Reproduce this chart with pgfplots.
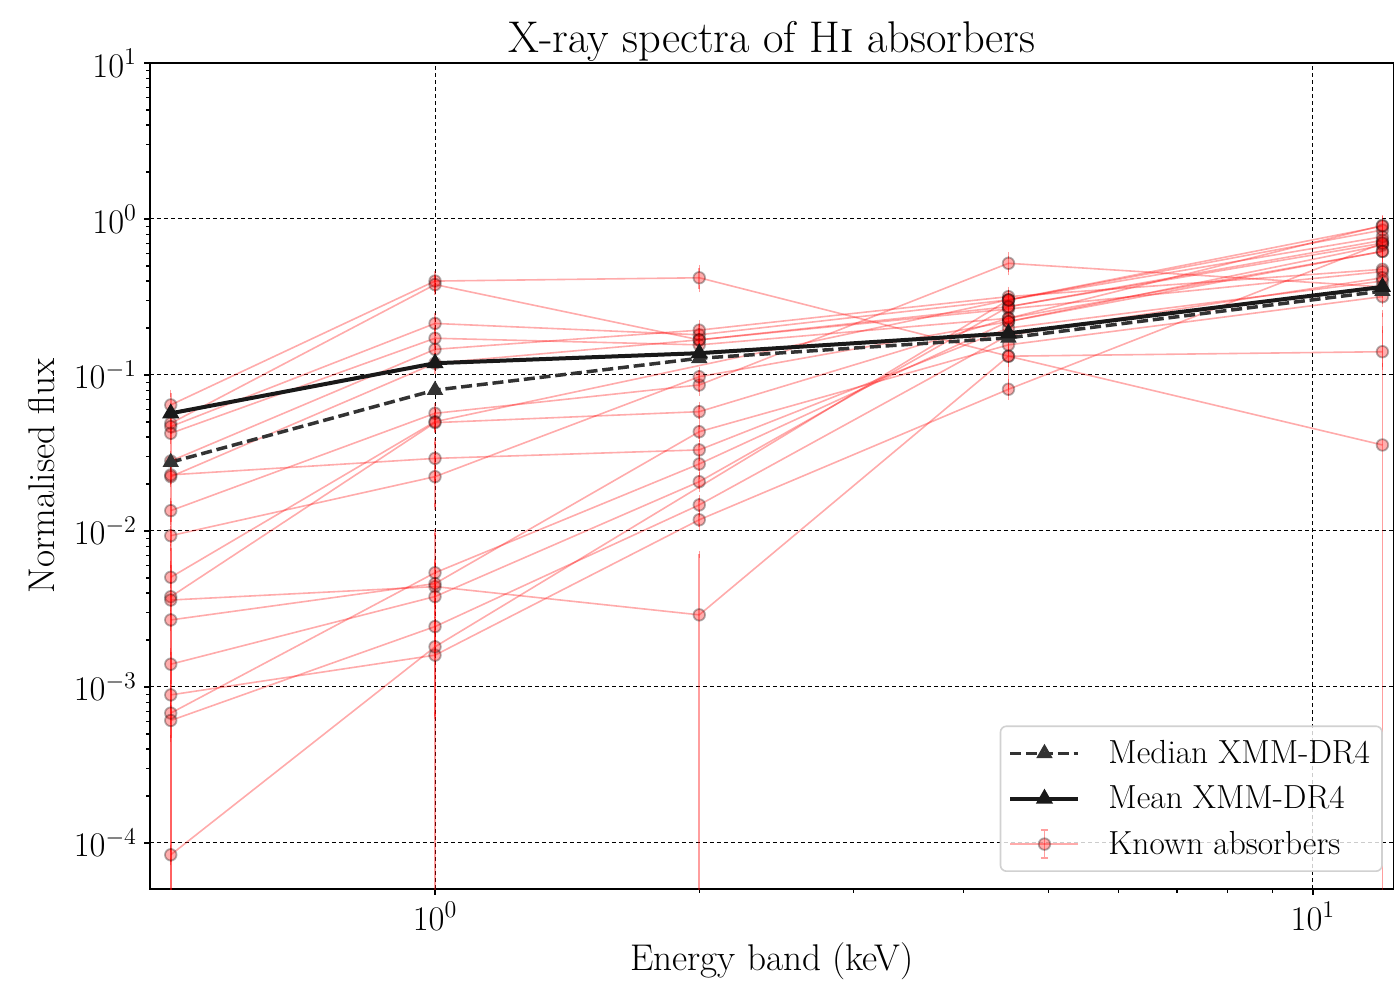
\documentclass[border=0pt]{standalone}
\usepackage{pgfplots}
\pgfplotsset{compat=1.18}
\usepackage{pgfplotstable}

% Normalised flux of each known absorber per energy band (keV)
% columns: band, flux, relative error up, relative error down
\pgfplotstableread{
E F ep em
0.5 0.0643 0.19 0.9999
1 0.40 0.1 0.1
2 0.42 0.15 0.15
4.5 0.132 0.1 0.1
12 0.141 0.38 0.2
}\tA
\pgfplotstableread{
E F ep em
0.5 0.049 0.1 0.1
1 0.38 0.1 0.1
2 0.168 0.1 0.1
4.5 0.274 0.1 0.1
12 0.70 0.1 0.1
}\tB
\pgfplotstableread{
E F ep em
0.5 0.0467 0.1 0.1
1 0.214 0.1 0.1
2 0.181 0.1 0.1
4.5 0.303 0.1 0.1
12 0.85 0.1 0.1
}\tC
\pgfplotstableread{
E F ep em
0.5 0.0423 0.1 0.1
1 0.172 0.1 0.1
2 0.156 0.1 0.1
4.5 0.231 0.1 0.1
12 0.62 0.1 0.1
}\tD
\pgfplotstableread{
E F ep em
0.5 0.0281 0.1 0.1
1 0.146 0.1 0.1
2 0.194 0.1 0.1
4.5 0.318 0.1 0.1
12 0.476 0.1 0.1
}\tE
\pgfplotstableread{
E F ep em
0.5 0.0223 0.1 0.1
1 0.119 0.1 0.1
2 0.168 0.1 0.1
4.5 0.265 0.1 0.1
12 0.46 0.1 0.1
}\tF
\pgfplotstableread{
E F ep em
0.5 0.0229 0.1 0.1
1 0.0292 0.28 0.28
2 0.0331 0.1 0.1
4.5 0.20 0.1 0.1
12 0.40 0.1 0.1
}\tG
\pgfplotstableread{
E F ep em
0.5 0.0135 0.15 0.15
1 0.0568 0.1 0.1
2 0.0863 0.1 0.1
4.5 0.52 0.12 0.12
12 0.367 0.1 0.1
}\tH
\pgfplotstableread{
E F ep em
0.5 0.00933 0.1 0.1
1 0.0223 0.36 0.36
2 0.0975 0.1 0.1
4.5 0.22 0.1 0.1
12 0.68 0.1 0.1
}\tI
\pgfplotstableread{
E F ep em
0.5 0.00505 0.55 0.1
1 0.0502 0.1 0.1
4.5 0.303 0.1 0.1
12 0.77 0.1 0.1
}\tJ
\pgfplotstableread{
E F ep em
0.5 0.00379 0.6 0.9999
1 0.0495 0.1 0.1
2 0.0582 0.1 0.1
4.5 0.231 0.1 0.1
12 0.91 0.1 0.1
}\tK
\pgfplotstableread{
E F ep em
0.5 0.00361 0.1 0.1
1 0.0044 0.1 0.1
2 0.0029 1.45 0.9999
4.5 0.132 0.1 0.38
12 0.0356 6.0 0.9999
}\tL
\pgfplotstableread{
E F ep em
0.5 0.00269 0.1 0.1
1 0.0046 0.37 0.37
2 0.0433 0.1 0.1
4.5 0.156 0.1 0.1
12 0.318 0.1 0.1
}\tM
\pgfplotstableread{
E F ep em
0.5 0.0014 0.2 0.25
1 0.0038 0.1 0.1
2 0.0207 0.1 0.1
4.5 0.274 0.1 0.1
12 0.73 0.1 0.1
}\tN
\pgfplotstableread{
E F ep em
0.5 0.00089 0.1 0.1
1 0.0016 0.6 0.59
2 0.0118 0.1 0.1
4.5 0.081 0.1 0.1
12 0.70 0.1 0.1
}\tO
\pgfplotstableread{
E F ep em
0.5 0.00068 0.1 0.1
1 0.0054 0.8 0.9999
2 0.0269 0.1 0.1
4.5 0.22 0.1 0.1
12 0.62 0.1 0.1
}\tP
\pgfplotstableread{
E F ep em
0.5 0.00061 0.25 0.23
1 0.00244 0.1 0.1
2 0.0147 0.1 0.1
4.5 0.18 0.1 0.1
12 0.42 0.1 0.1
}\tQ
\pgfplotstableread{
E F ep em
0.5 0.000084 0.1 0.1
1 0.00181 0.1 0.1
4.5 0.303 0.1 0.1
12 0.90 0.1 0.1
}\tR

% XMM-DR4 reference spectra
\pgfplotstableread{
E F
0.5 0.0276
1 0.080
2 0.128
4.5 0.173
12 0.345
}\tMedian
\pgfplotstableread{
E F
0.5 0.0568
1 0.119
2 0.138
4.5 0.185
12 0.367
}\tMean

\pgfplotsset{
  absorber/.style={
    forget plot, draw=red, draw opacity=0.33, line width=0.8pt,
    mark=*, mark size=2.9pt,
    mark options={solid, fill=red, fill opacity=0.32, draw=black, draw opacity=0.3, line width=0.9pt},
    error bars/.cd, y dir=both, y explicit relative,
    error bar style={draw=red, draw opacity=0.38, line width=0.8pt},
    error mark options={draw=red, draw opacity=0.38, line width=0.7pt, mark size=1.75pt},
  },
  medianstyle/.style={color=black!80, line width=1.75pt, dash pattern=on 5.5pt off 2.4pt,
    mark=triangle*, mark size=3pt, mark options={solid, fill=black!80}},
  meanstyle/.style={color=black!90, line width=2pt,
    mark=triangle*, mark size=3pt, mark options={solid, fill=black!90}},
}

\begin{document}
\begin{tikzpicture}
\useasboundingbox (-75pt,-48pt) rectangle (622pt,444.5pt);
\begin{axis}[
  at={(0,0)}, anchor=south west,
  scale only axis, width=622pt, height=413pt,
  xmode=log, ymode=log,
  xmin=0.4735, xmax=12.37, ymin=5.07e-5, ymax=10,
  xtick={1,10}, ytick={1e-4,1e-3,1e-2,1e-1,1,10},
  tick pos=left, tick align=outside,
  major tick length=3pt, minor tick length=2pt,
  every tick/.style={black, line width=0.6pt},
  grid=major,
  major grid style={black, line width=0.5pt, dash pattern=on 2pt off 1.5pt},
  axis line style={line width=0.8pt},
  tick label style={font=\fontsize{17.5}{20}\selectfont},
  xlabel={Energy band (keV)}, ylabel={Normalised flux},
  xlabel style={font=\fontsize{18.6}{22}\selectfont, at={(axis description cs:0.5,-0.099)}, anchor=base},
  ylabel style={font=\fontsize{18.6}{22}\selectfont, at={(axis description cs:-0.0764,0.5)}, anchor=base},
  title={X-ray spectra of H\textsc{i} absorbers},
  title style={font=\fontsize{22.2}{26}\selectfont, at={(axis description cs:0.5,1)}, anchor=base, yshift=-1pt},
  legend style={at={(rel axis cs:0.991,0.0206)}, anchor=south east,
    draw=black!18, line width=0.8pt, rounded corners=3pt, fill=white, fill opacity=0.8, text opacity=1,
    font=\fontsize{16.7}{20}\selectfont, row sep=5.7pt, column sep=12pt, inner xsep=4pt, inner ysep=5pt},
  legend cell align=left,
  legend image code/.code={\draw[mark repeat=2, mark phase=2] plot coordinates {(0pt,0pt) (17pt,0pt) (34pt,0pt)};},
]
\addplot[absorber] table[x=E, y=F, y error plus=ep, y error minus=em] {\tA};
\addplot[absorber] table[x=E, y=F, y error plus=ep, y error minus=em] {\tB};
\addplot[absorber] table[x=E, y=F, y error plus=ep, y error minus=em] {\tC};
\addplot[absorber] table[x=E, y=F, y error plus=ep, y error minus=em] {\tD};
\addplot[absorber] table[x=E, y=F, y error plus=ep, y error minus=em] {\tE};
\addplot[absorber] table[x=E, y=F, y error plus=ep, y error minus=em] {\tF};
\addplot[absorber] table[x=E, y=F, y error plus=ep, y error minus=em] {\tG};
\addplot[absorber] table[x=E, y=F, y error plus=ep, y error minus=em] {\tH};
\addplot[absorber] table[x=E, y=F, y error plus=ep, y error minus=em] {\tI};
\addplot[absorber] table[x=E, y=F, y error plus=ep, y error minus=em] {\tJ};
\addplot[absorber] table[x=E, y=F, y error plus=ep, y error minus=em] {\tK};
\addplot[absorber] table[x=E, y=F, y error plus=ep, y error minus=em] {\tL};
\addplot[absorber] table[x=E, y=F, y error plus=ep, y error minus=em] {\tM};
\addplot[absorber] table[x=E, y=F, y error plus=ep, y error minus=em] {\tN};
\addplot[absorber] table[x=E, y=F, y error plus=ep, y error minus=em] {\tO};
\addplot[absorber] table[x=E, y=F, y error plus=ep, y error minus=em] {\tP};
\addplot[absorber] table[x=E, y=F, y error plus=ep, y error minus=em] {\tQ};
\addplot[absorber] table[x=E, y=F, y error plus=ep, y error minus=em] {\tR};

\addplot[medianstyle, forget plot] table[x=E, y=F] {\tMedian};
\addplot[meanstyle, forget plot] table[x=E, y=F] {\tMean};

\addlegendimage{medianstyle}
\addlegendentry{Median XMM-DR4}
\addlegendimage{meanstyle}
\addlegendentry{Mean XMM-DR4}
\addlegendimage{legend image code/.code={
  \draw[red, draw opacity=0.33, line width=0.8pt] (0pt,0pt) -- (34pt,0pt);
  \draw[red, draw opacity=0.38, line width=0.7pt] (17pt,-7pt) -- (17pt,7pt)
     (15.25pt,-7pt) -- (18.75pt,-7pt) (15.25pt,7pt) -- (18.75pt,7pt);
  \draw[fill=red, fill opacity=0.32, draw=black, draw opacity=0.3, line width=0.9pt] (17pt,0pt) circle (2.9pt);
}}
\addlegendentry{Known absorbers}
\end{axis}
\end{tikzpicture}
\end{document}
